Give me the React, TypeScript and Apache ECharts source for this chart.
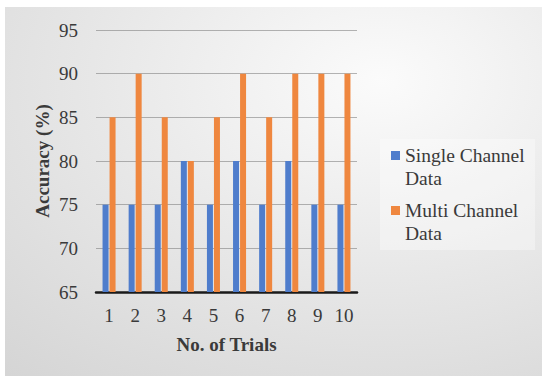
import React, { useEffect, useRef } from "react";
import * as echarts from "echarts";

const categories = ["1", "2", "3", "4", "5", "6", "7", "8", "9", "10"];
const singleChannel = [75, 75, 75, 80, 75, 80, 75, 80, 75, 75];
const multiChannel = [85, 90, 85, 80, 85, 90, 85, 90, 90, 90];
const seriesNames = ["Single Channel\nData", "Multi Channel\nData"];
const yMin = 65;
const yMax = 95;
const yStep = 5;

const FONT = "'Liberation Serif', 'Times New Roman', serif";

export default function App() {
  const ref = useRef<HTMLDivElement>(null);
  useEffect(() => {
    if (!ref.current) return;
    const chart = echarts.init(ref.current, undefined, { renderer: "svg" });
    chart.setOption({
      animation: false,
      backgroundColor: "#ffffff",
      textStyle: { fontFamily: FONT },
      graphic: [
        {
          type: "rect",
          z: -10,
          silent: true,
          shape: { x: 5, y: 7, width: 537, height: 369 },
          style: {
            fill: new echarts.graphic.RadialGradient(0.7, 0.2, 1.2, [
              { offset: 0, color: "#fbfbfb" },
              { offset: 0.45, color: "#e7e7e7" },
              { offset: 1, color: "#d0d0d0" },
            ]),
          },
        },
        {
          type: "rect",
          z: -5,
          silent: true,
          shape: { x: 380, y: 139, width: 155, height: 111 },
          style: { fill: "rgba(255,255,255,0.35)" },
        },
      ],
      grid: { left: 96, right: 185, top: 30, bottom: 84, containLabel: false },
      legend: {
        orient: "vertical",
        left: 391,
        top: 121,
        padding: 0,
        itemWidth: 9,
        itemHeight: 9,
        itemGap: -14,
        icon: "rect",
        selectedMode: false,
        formatter: (name: string) => "\n" + name,
        textStyle: {
          fontFamily: FONT,
          fontSize: 19.5,
          lineHeight: 23,
          color: "#3a3a3a",
        },
        data: seriesNames,
      },
      xAxis: {
        type: "category",
        data: categories,
        name: "No. of Trials",
        nameLocation: "middle",
        nameGap: 43,
        nameTextStyle: {
          fontFamily: FONT,
          fontSize: 19,
          fontWeight: "bold",
          color: "#3a3a3a",
        },
        axisLine: { show: true, lineStyle: { color: "#1a1a1a", width: 2.5 } },
        axisTick: { show: false },
        axisLabel: {
          fontFamily: FONT,
          fontSize: 19,
          color: "#3a3a3a",
          margin: 14,
        },
      },
      yAxis: {
        type: "value",
        min: yMin,
        max: yMax,
        interval: yStep,
        name: "Accuracy (%)",
        nameLocation: "middle",
        nameGap: 44,
        nameTextStyle: {
          fontFamily: FONT,
          fontSize: 19,
          fontWeight: "bold",
          color: "#3a3a3a",
        },
        axisLine: { show: false },
        axisTick: { show: false },
        axisLabel: {
          fontFamily: FONT,
          fontSize: 19,
          color: "#3a3a3a",
          margin: 18,
        },
        splitLine: {
          show: true,
          lineStyle: { color: "rgba(120,120,120,0.55)", width: 1 },
        },
      },
      series: [
        {
          name: seriesNames[0],
          type: "bar",
          data: singleChannel,
          barWidth: 6,
          barGap: "17%",
          itemStyle: { color: "#4f7dcc" },
        },
        {
          name: seriesNames[1],
          type: "bar",
          data: multiChannel,
          barWidth: 6,
          itemStyle: { color: "#ef873f" },
        },
      ],
    });
    return () => chart.dispose();
  }, []);
  return (
    <div
      ref={ref}
      style={{ position: "fixed", left: 0, top: 0, width: 542, height: 376 }}
    />
  );
}
